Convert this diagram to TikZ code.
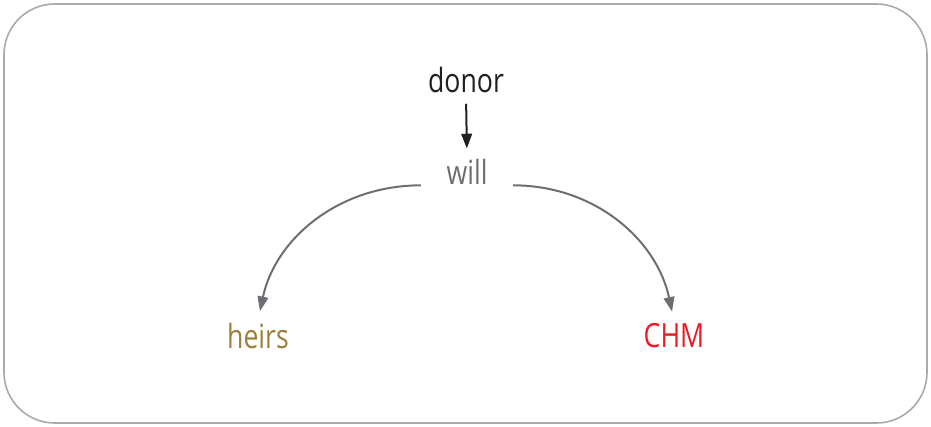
\documentclass[tikz,border=0pt]{standalone}
\usepackage{fontspec}
\setmainfont[FakeStretch=0.8]{Open Sans}
\usepackage{tikz}
\usetikzlibrary{arrows.meta}
\definecolor{donorcol}{HTML}{231F20}
\definecolor{willcol}{HTML}{6D6E71}
\definecolor{heirscol}{HTML}{9B7F3A}
\definecolor{chmcol}{HTML}{ED1C24}
\definecolor{framecol}{HTML}{AAAAAA}
\tikzset{
    word/.style={font=\fontsize{25}{29}\selectfont, inner sep=2pt},
    flow/.style={-{Triangle[length=11pt,width=8pt]}, line width=1.5pt, draw=willcol}
}

\begin{document}
\begin{tikzpicture}[x=0.75pt, y=-0.75pt]
    % Frame of the picture
    \useasboundingbox (0,0) rectangle (931,427);
    \draw[framecol, line width=1.2pt, rounded corners=38pt] (4,4) rectangle (927,423);

    % The words
    \node[word, text=donorcol] (Donor) at (466,80) {donor};
    \node[word, text=willcol, inner xsep=19pt] (Will) at (467,172) {will};
    \node[word, text=heirscol] (Heirs) at (258,336) {heirs};
    \node[word, text=chmcol] (CHM) at (674,336) {CHM};

    % Connect the words
    \draw[flow, draw=donorcol, shorten <=6pt, shorten >=6pt] (Donor.south) -- (Will.north);
    \draw[flow, shorten >=7pt] ([yshift=-10pt]Will.west) to[out=180, in=78] (Heirs.north);
    \draw[flow, shorten >=7pt] ([yshift=-10pt]Will.east) to[out=0, in=102] (CHM.north);
\end{tikzpicture}
\end{document}
